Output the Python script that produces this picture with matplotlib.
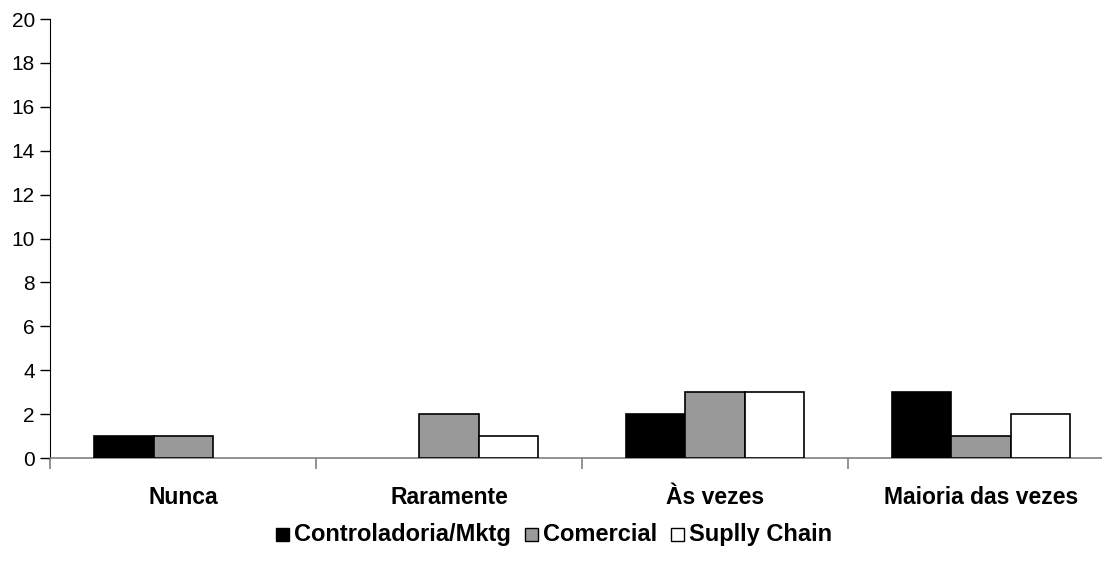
import numpy as np
import matplotlib.pyplot as plt
from matplotlib.patches import Rectangle

# frequency of use by area
categories = ["Nunca", "Raramente", "Às vezes", "Maioria das vezes"]
series_names = ["Controladoria/Mktg", "Comercial", "Suplly Chain"]
controladoria = [1, 0, 2, 3]
comercial = [1, 2, 3, 1]
supply_chain = [0, 1, 3, 2]

colors = ["#000000", "#999999", "#ffffff"]

plt.rcParams['font.family'] = ['Liberation Sans', 'DejaVu Sans']

W, H = 1102, 577
fig = plt.figure(figsize=(W / 100, H / 100), dpi=100)
ax = fig.add_axes([0.0454, 0.2062, 0.9655, 0.7608])

x = np.arange(len(categories))
width = 0.222
for i, (vals, c) in enumerate(zip([controladoria, comercial, supply_chain], colors)):
    vals = np.array(vals, dtype=float)
    # empty categories get no bar outline
    lw = np.where(vals > 0, 1.2, 0.0)
    ax.bar(x + (i - 1) * width, vals, width, color=c, edgecolor="black", linewidth=lw, zorder=3)

ax.set_xlim(-0.5, 3.5)
ax.set_ylim(0, 20)
ax.set_yticks(range(0, 21, 2))
ax.tick_params(axis='y', direction='out', length=7, width=1, labelsize=15, pad=4)

# category boundaries carry the tick marks, labels sit at centres
ax.set_xticks(np.arange(-0.5, 4, 1.0))
ax.set_xticklabels([])
ax.tick_params(axis='x', direction='out', length=8, width=1.2, color="#808080")
for xi, lab in zip(x, categories):
    ax.text(xi, -1.8, lab, ha='center', va='center', fontsize=16.5, fontweight='bold')

for s in ['top', 'right']:
    ax.spines[s].set_visible(False)
ax.spines['left'].set_color('black')
ax.spines['bottom'].set_color('#808080')
ax.spines['bottom'].set_linewidth(1.2)

# legend row laid out by hand: measure each label, then centre the whole row
box, pad, gap = 13, 5, 14
base_y = 541
fig.canvas.draw()
renderer = fig.canvas.get_renderer()
texts = [fig.text(0, 1 - base_y / H, name, ha='left', va='baseline',
                  fontsize=17, fontweight='bold') for name in series_names]
widths = [t.get_window_extent(renderer).width for t in texts]
total = sum(box + pad + w for w in widths) + gap * (len(widths) - 1)
lx = 554 - total / 2
for t, w, c in zip(texts, widths, colors):
    fig.patches.append(Rectangle((lx / W, 1 - base_y / H), box / W, box / H,
                                 transform=fig.transFigure, facecolor=c,
                                 edgecolor='black', linewidth=1))
    t.set_x((lx + box + pad) / W)
    lx += box + pad + w + gap

fig.savefig("out.png", dpi=100)
